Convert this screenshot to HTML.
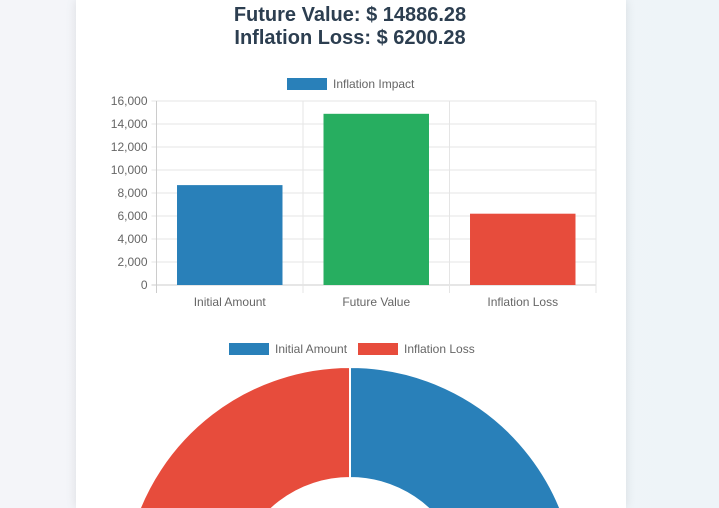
<!DOCTYPE html>
<html><head><meta charset="utf-8"><style>
html,body{margin:0;width:719px;height:508px;overflow:hidden;}
body{background:linear-gradient(90deg,#f4f5f9,#eef4f8);font-family:"Liberation Sans",sans-serif;position:relative;}
.card{position:absolute;left:76px;top:0;width:550px;height:508px;background:#fff;box-shadow:0 0 10px rgba(0,0,0,0.1);}
h2{position:absolute;left:0;width:700px;text-align:center;margin:0;font-size:20px;font-weight:bold;color:#2c3e50;line-height:24px;}
</style></head><body>
<div class="card"></div>
<h2 style="top:3px">Future Value: $ 14886.28</h2>
<h2 style="top:26px">Inflation Loss: $ 6200.28</h2>
<svg id="c" width="719" height="508" style="position:absolute;left:0;top:0;display:block" font-family="Liberation Sans, sans-serif"></svg>
<script>
const categories=["Initial Amount","Future Value","Inflation Loss"];
const values=[8686,14886.28,6200.28];
const colors=["#2980b9","#27ae60","#e74c3c"];
const yTicks=[0,2000,4000,6000,8000,10000,12000,14000,16000];
const pieLabels=["Initial Amount","Inflation Loss"];
const pieValues=[8686,6200.28];
const pieColors=["#2980b9","#e74c3c"];
const svg=document.getElementById('c');const NS="http://www.w3.org/2000/svg";
function mk(t,a,p){const e=document.createElementNS(NS,t);for(const k in a)e.setAttribute(k,a[k]);(p||svg).appendChild(e);return e;}
const x0=156.5,x1=596,yTop=101,yBot=285,yMax=16000;
const y=v=>yBot-(v/yMax)*(yBot-yTop);
const bw=(x1-x0)/categories.length;
yTicks.forEach(t=>{const l=mk('line',{x1:x0-5,x2:x1,y1:y(t),y2:y(t),stroke:t===0?'#ccc':'#e5e5e5'});


const tx=mk('text',{x:x0-9,y:y(t)+4,'text-anchor':'end','font-size':12,fill:'#666'});tx.textContent=t.toLocaleString('en-US');

});
for(let i=0;i<=categories.length;i++){const l=mk('line',{x1:x0+i*bw,x2:x0+i*bw,y1:yTop,y2:yBot+8,stroke:i===0?'#ccc':'#e5e5e5'});

}
categories.forEach((c,i)=>{const cx=x0+(i+0.5)*bw,w=bw*0.72;
const r=mk('rect',{x:cx-w/2,y:y(values[i]),width:w,height:yBot-y(values[i]),fill:colors[i]});


const t=mk('text',{x:cx,y:306,'text-anchor':'middle','font-size':12,fill:'#666'});t.textContent=c;

});
const lb=mk('rect',{x:287,y:78,width:40,height:12,fill:'#2980b9'});


const lt=mk('text',{x:333,y:88,'font-size':12,fill:'#666'});lt.textContent="Inflation Impact";


const lx=[229,358];
pieLabels.forEach((p,i)=>{const s=mk('rect',{x:lx[i],y:343,width:40,height:12,fill:pieColors[i]});


const t=mk('text',{x:lx[i]+46,y:353,'font-size':12,fill:'#666'});t.textContent=p;

});
const cx=350,cy=594,R=227,r0=116;const tot=pieValues.reduce((a,b)=>a+b,0);let ang=-Math.PI/2;
const pt=(a,rr)=>[cx+rr*Math.cos(a),cy+rr*Math.sin(a)];
pieValues.forEach((v,i)=>{const a2=ang+v/tot*2*Math.PI,lg=(a2-ang)>Math.PI?1:0;
const [ax,ay]=pt(ang,R),[bx,by]=pt(a2,R),[cx2,cy2]=pt(a2,r0),[dx,dy]=pt(ang,r0);
const p=mk('path',{d:`M${ax} ${ay}A${R} ${R} 0 ${lg} 1 ${bx} ${by}L${cx2} ${cy2}A${r0} ${r0} 0 ${lg} 0 ${dx} ${dy}Z`,fill:pieColors[i],stroke:'#fff','stroke-width':2});


ang=a2;});
</script>
</body></html>
